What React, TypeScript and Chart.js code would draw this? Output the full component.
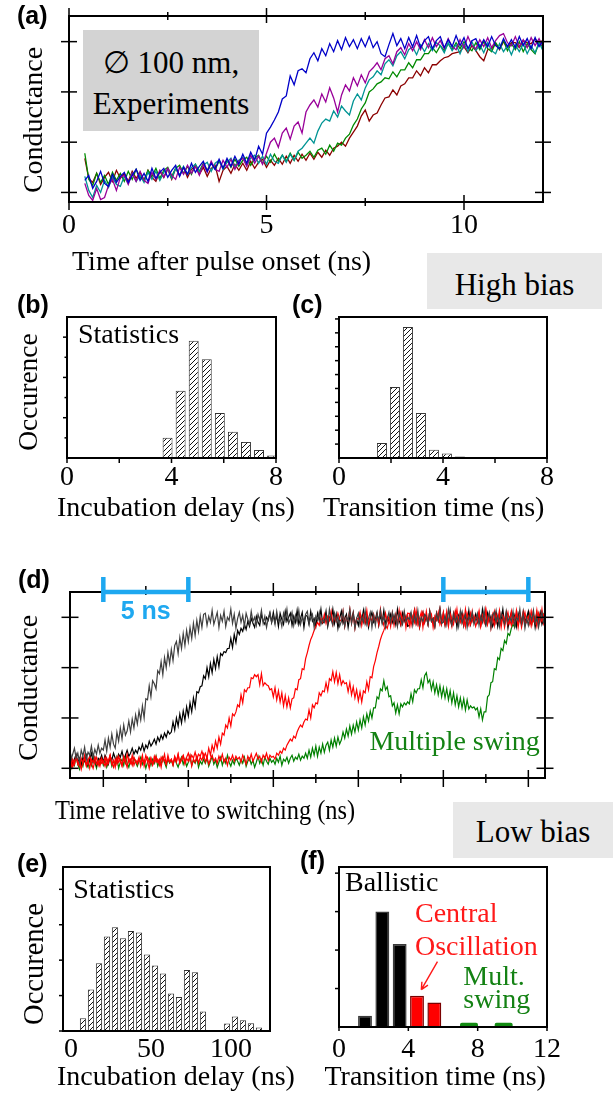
import React, { useEffect, useRef } from 'react';
import { Chart, registerables } from 'chart.js';

Chart.register(...registerables);

const SERIF = '"Liberation Serif", "Times New Roman", Times, serif';
const SANS = '"Liberation Sans", Arial, Helvetica, sans-serif';

/* ---------------- (a) high bias traces ---------------- */
const A_T_START = 0.4;
const A_T_STEP = 0.1;
const A_BLUE = [
  0.24,0.34,0.08,0.22,0.42,0.18,0.12,0.36,0.20,0.32,
  0.40,0.20,0.34,0.46,0.24,0.38,0.22,0.48,0.28,0.40,
  0.48,0.30,0.44,0.54,0.32,0.50,0.36,0.58,0.40,0.52,
  0.62,0.42,0.58,0.46,0.66,0.48,0.68,0.52,0.72,0.56,
  0.76,0.58,0.80,0.64,0.92,0.76,1.18,1.30,1.44,1.60,
  1.86,1.92,2.32,2.14,2.42,2.46,2.38,2.66,2.78,2.62,
  2.86,2.72,2.96,2.80,3.02,2.84,3.08,2.90,3.04,2.86,
  3.06,2.90,3.10,2.88,3.00,2.76,2.70,2.94,3.16,2.92,
  3.06,2.86,3.08,2.90,3.12,2.88,3.02,3.10,2.86,3.02,
  3.10,2.88,3.04,2.90,3.12,2.92,3.08,2.86,3.02,3.06,
  2.88,3.04,2.90,3.10,2.92,2.86,3.06,2.90,3.04,2.88,
  3.10,2.92,3.06,2.86,3.08,2.90,3.02,
];
const A_PURPLE = [
  0.18,-0.06,-0.16,0.08,-0.14,-0.10,0.14,0.26,0.04,0.30,
  0.34,0.16,0.38,0.22,0.42,0.24,0.18,0.40,0.26,0.44,
  0.30,0.48,0.34,0.26,0.50,0.36,0.54,0.38,0.52,0.34,
  0.56,0.40,0.62,0.46,0.42,0.64,0.50,0.66,0.46,0.62,
  0.68,0.52,0.74,0.58,0.72,0.56,0.78,1.00,1.08,0.90,
  1.18,1.28,1.06,1.32,1.40,1.18,1.60,1.74,1.84,1.70,
  1.96,1.80,2.08,1.88,1.60,1.94,2.14,2.02,2.28,2.12,
  2.34,2.18,2.40,2.48,2.58,2.44,2.66,2.72,2.56,2.80,
  2.88,2.74,2.96,2.82,3.00,2.84,3.04,2.88,3.08,2.90,
  3.02,2.86,3.06,2.90,2.84,3.04,2.88,3.10,2.92,2.86,
  3.04,2.90,3.08,2.88,3.02,3.12,3.16,2.98,2.92,3.10,
  2.90,3.04,2.88,3.08,2.92,3.06,2.90,
];
const A_TEAL = [
  0.32,0.04,-0.10,0.14,0.00,0.24,0.10,0.30,0.16,0.12,
  0.32,0.18,0.38,0.22,0.34,0.20,0.40,0.26,0.42,0.24,
  0.40,0.46,0.28,0.48,0.34,0.52,0.36,0.50,0.56,0.40,
  0.54,0.60,0.42,0.58,0.64,0.46,0.60,0.68,0.50,0.64,
  0.70,0.54,0.68,0.74,0.58,0.72,0.56,0.76,0.62,0.58,
  0.74,0.60,0.76,0.64,0.82,0.88,0.98,1.08,0.98,1.22,
  1.38,1.46,1.42,1.62,1.50,1.72,1.62,1.54,1.82,1.96,
  1.84,2.08,2.24,2.30,2.42,2.34,2.56,2.64,2.52,2.72,
  2.80,2.66,2.84,2.90,2.74,2.94,2.80,2.96,2.82,2.98,
  2.92,2.78,2.98,2.82,2.94,2.76,2.96,2.80,3.00,2.82,
  2.94,2.78,2.98,2.82,2.76,2.96,2.80,2.92,2.74,2.94,
  2.80,2.96,2.76,2.92,2.78,2.98,2.82,
];
const A_GREEN = [
  0.78,0.26,0.14,0.38,0.20,0.34,0.16,0.40,0.24,0.38,
  0.22,0.42,0.26,0.46,0.30,0.24,0.44,0.32,0.48,0.28,
  0.44,0.50,0.32,0.48,0.54,0.38,0.52,0.36,0.56,0.42,
  0.58,0.44,0.60,0.46,0.62,0.48,0.64,0.50,0.66,0.52,
  0.64,0.70,0.54,0.68,0.74,0.58,0.72,0.60,0.76,0.62,
  0.74,0.62,0.78,0.64,0.80,0.68,0.74,0.82,0.70,0.84,
  0.88,0.76,0.94,0.82,0.98,0.94,1.08,1.16,1.34,1.46,
  1.66,1.78,2.00,2.06,2.16,2.20,2.28,2.26,2.40,2.30,
  2.44,2.44,2.58,2.48,2.64,2.64,2.76,2.76,2.88,2.78,
  2.92,2.82,2.96,2.84,2.98,2.86,3.00,2.88,2.82,2.98,
  2.84,3.00,2.86,2.80,2.98,2.86,3.02,2.82,2.96,2.84,
  3.00,2.80,2.96,2.84,2.76,2.98,2.88,
];
const A_DARKRED = [
  0.68,0.28,0.20,0.38,0.16,0.30,0.40,0.22,0.44,0.28,
  0.38,0.22,0.42,0.28,0.40,0.24,0.44,0.30,0.22,0.42,
  0.30,0.46,0.26,0.48,0.34,0.50,0.30,0.46,0.52,0.36,
  0.50,0.32,0.48,0.54,0.22,0.44,0.52,0.38,0.56,0.44,
  0.58,0.44,0.62,0.48,0.60,0.66,0.50,0.64,0.54,0.68,
  0.56,0.72,0.58,0.74,0.62,0.76,0.64,0.78,0.66,0.80,
  0.70,0.84,0.74,0.88,0.92,1.00,0.92,1.08,1.20,1.32,
  1.52,1.64,1.42,1.54,1.58,1.74,1.88,1.90,2.04,1.94,
  2.12,2.16,2.28,2.28,2.42,2.32,2.48,2.38,2.54,2.54,
  2.62,2.68,2.70,2.76,2.78,2.80,2.90,2.78,2.92,2.82,
  2.70,2.62,2.84,2.86,2.96,2.84,3.00,2.88,2.98,2.98,
  2.88,3.02,2.98,2.96,3.06,2.94,3.04,
];
const A_X_LABELS = [0, 5, 10];
const A_X_MAJOR = [0, 5, 10];
const A_X_MINOR = [2.5, 7.5];
const A_Y_TICKS = [0, 1, 2, 3];

/* ---------------- (b) incubation delay, high bias ---------------- */
const B_BINS = [3.85, 4.35, 4.85, 5.35, 5.85, 6.35, 6.85, 7.35, 7.85];
const B_COUNTS = [0.50, 1.67, 2.91, 2.45, 1.12, 0.65, 0.40, 0.20, 0.06];
const B_X_LABELS = [0, 4, 8];
const B_X_TICKS = [0, 2, 4, 6, 8];
const B_Y_MAJOR = [1, 2, 3];
const B_Y_MINOR = [0.5, 1.5, 2.5];

/* ---------------- (c) transition time, high bias ---------------- */
const C_BINS = [1.65, 2.15, 2.65, 3.15, 3.65, 4.15, 4.65];
const C_COUNTS = [0.54, 2.55, 4.71, 1.62, 0.30, 0.16, 0.05];
const C_X_LABELS = [0, 4, 8];
const C_X_TICKS = [0, 2, 4, 6, 8];
const C_Y_TICKS = [0.5, 1, 1.5, 2, 2.5, 3, 3.5, 4, 4.5, 5];

/* ---------------- (d) low bias traces (0.1 ns samples) ---------------- */
const D_T_START = -2;
const D_T_STEP = 0.1;
// switched-state (plateau) segments, 10 samples each
const D_P1 = [3.08,2.84,3.02,2.90,3.14,2.86,2.98,3.10,2.80,3.04];
const D_P2 = [2.92,3.12,2.82,3.00,2.94,3.16,2.88,3.06,2.78,2.98];
const D_P3 = [3.10,2.90,3.04,2.82,3.08,2.96,2.86,3.12,2.92,3.00];
const D_P4 = [2.84,3.06,2.94,3.14,2.88,3.02,2.80,2.98,3.10,2.90];
const D_P5 = [3.02,2.86,3.12,2.92,2.98,2.82,3.08,2.94,3.16,2.88];
const D_P6 = [2.96,3.10,2.84,3.04,2.90,3.14,2.86,3.00,2.92,3.06];
const D_P7 = [3.12,2.88,2.98,3.06,2.80,3.02,2.94,3.10,2.86,2.96];
const D_P8 = [2.90,3.04,2.86,3.16,2.94,2.84,3.08,2.92,3.02,2.82];

const D_GRAY = [
  0.34,0.16,0.28,0.40,0.20,0.30,0.12,0.36,0.24,0.42,0.18,0.32,0.26,0.44,0.22,0.38,0.28,0.46,0.30,0.40,
  0.36,0.56,0.34,0.60,0.42,0.68,0.48,0.40,0.72,0.54,0.80,0.58,0.86,0.66,0.74,0.94,0.72,0.98,0.80,1.06,
  0.88,1.14,0.96,1.24,1.00,1.38,1.36,1.64,1.42,1.74,1.68,1.58,1.94,1.88,2.12,1.86,2.20,2.00,2.30,2.08,
  2.36,2.14,2.44,2.52,2.28,2.60,2.38,2.68,2.44,2.74,2.52,2.80,2.58,2.88,2.64,2.94,2.72,3.02,2.80,3.06,
  ...D_P1, ...D_P2, ...D_P3, ...D_P4, ...D_P5, ...D_P6, ...D_P7, ...D_P8, ...D_P2, ...D_P1,
  ...D_P4, ...D_P3, ...D_P6, ...D_P5, ...D_P8, ...D_P7, ...D_P1, ...D_P3, ...D_P2, ...D_P4,
  2.96,
];
const D_BLACK = [
  0.10,0.24,0.06,0.18,0.28,0.12,0.20,0.04,0.22,0.14,0.26,0.08,0.18,0.30,0.12,0.22,0.06,0.20,0.16,0.26,
  0.12,0.26,0.18,0.08,0.24,0.16,0.30,0.20,0.12,0.28,0.22,0.34,0.18,0.26,0.36,0.24,0.30,0.40,0.28,0.36,
  0.30,0.42,0.36,0.48,0.34,0.46,0.40,0.54,0.44,0.50,0.58,0.48,0.62,0.54,0.66,0.58,0.70,0.62,0.74,0.68,
  0.72,0.92,0.76,1.00,0.84,1.08,0.90,1.14,0.96,1.22,1.04,1.30,1.12,1.40,1.22,1.52,1.50,1.62,1.64,1.84,
  1.78,2.00,1.82,2.08,1.90,2.16,1.98,2.22,2.02,2.28,2.24,2.32,2.30,2.38,2.38,2.58,2.40,2.66,2.50,2.74,
  2.66,2.78,2.72,2.86,2.76,2.92,2.82,2.98,2.88,2.80,3.02,2.90,2.84,3.06,2.92,2.86,3.00,2.94,3.08,2.90,
  ...D_P3, ...D_P1, ...D_P5, ...D_P2, ...D_P7, ...D_P4, ...D_P6, ...D_P8,
  ...D_P4, ...D_P5, ...D_P1, ...D_P6, ...D_P8, ...D_P2, ...D_P3, ...D_P7,
  2.94,
];
const D_RED_1 = [
  0.06,0.18,0.02,0.14,0.22,0.08,0.16,-0.02,0.12,0.20,0.04,0.16,0.24,0.10,0.00,0.14,0.22,0.06,0.18,0.10,
  0.14,0.04,0.20,0.10,0.26,0.08,0.16,0.02,0.22,0.12,0.18,0.06,0.24,0.14,0.02,0.20,0.10,0.26,0.06,0.16,
  0.12,0.22,0.04,0.18,0.10,0.26,0.14,0.00,0.20,0.08,0.24,0.12,0.18,0.06,0.22,0.14,0.28,0.08,0.20,0.12,
  0.18,0.08,0.24,0.14,0.28,0.10,0.20,0.26,0.12,0.22,0.30,0.16,0.26,0.20,0.32,0.18,0.28,0.24,0.34,0.22,
  0.30,0.20,0.40,0.26,0.46,0.34,0.54,0.40,0.62,0.48,0.70,0.66,0.86,0.80,1.00,0.84,1.08,1.04,1.12,1.26,
  1.22,1.46,1.30,1.56,1.52,1.60,1.60,1.80,1.78,1.86,1.82,1.86,1.66,1.88,1.64,1.70,1.66,1.64,1.56,1.58,
  1.42,1.60,1.36,1.54,1.32,1.50,1.24,1.44,1.22,1.40,1.20,1.38,1.40,1.58,1.56,1.76,1.78,1.98,1.96,2.18,
  2.30,2.44,2.56,2.64,2.74,2.82,2.90,2.84,2.98,2.90,3.06,2.88,3.02,2.94,3.12,2.86,3.00,2.92,3.08,2.96,
  ...D_P2, ...D_P6, ...D_P8, ...D_P1, ...D_P4, ...D_P7, ...D_P5, ...D_P3, ...D_P6, ...D_P4, ...D_P7, ...D_P5,
  3.00,
];
const D_RED_2 = [
  0.14,0.02,0.18,0.08,0.24,0.12,0.04,0.20,0.10,0.26,0.06,0.16,0.00,0.18,0.12,0.22,0.08,0.14,0.04,0.20,
  0.10,0.22,0.06,0.16,0.26,0.12,0.02,0.18,0.08,0.24,0.14,0.04,0.20,0.10,0.28,0.12,0.18,0.06,0.22,0.14,
  0.08,0.18,0.12,0.26,0.04,0.16,0.22,0.10,0.20,0.06,0.14,0.24,0.12,0.18,0.02,0.22,0.16,0.08,0.26,0.12,
  0.18,0.06,0.22,0.12,0.28,0.10,0.16,0.24,0.08,0.20,0.14,0.26,0.04,0.18,0.12,0.24,0.10,0.22,0.16,0.28,
  0.12,0.22,0.08,0.18,0.26,0.14,0.20,0.10,0.24,0.16,0.28,0.12,0.20,0.06,0.22,0.16,0.26,0.14,0.24,0.18,
  0.22,0.12,0.26,0.18,0.08,0.24,0.16,0.28,0.14,0.22,0.30,0.18,0.24,0.12,0.26,0.20,0.30,0.16,0.26,0.22,
  0.24,0.18,0.30,0.26,0.34,0.30,0.40,0.36,0.46,0.52,0.58,0.54,0.64,0.60,0.72,0.80,0.86,0.82,0.92,0.98,
  0.96,1.16,1.00,1.26,1.20,1.30,1.28,1.50,1.44,1.54,1.52,1.70,1.54,1.78,1.74,1.92,1.72,1.90,1.68,1.86,
  1.66,1.74,1.68,1.70,1.52,1.70,1.46,1.62,1.40,1.56,1.34,1.52,1.32,1.54,1.50,1.72,1.56,1.82,1.80,2.02,
  2.14,2.30,2.42,2.56,2.66,2.74,2.84,2.78,2.92,2.86,3.00,2.90,3.06,2.84,2.98,3.10,2.88,3.02,2.94,3.08,
  ...D_P1, ...D_P5, ...D_P3, ...D_P8, ...D_P2, ...D_P7, ...D_P4, ...D_P6,
  3.02,
];
const D_GREEN = [
  0.10,0.00,0.16,0.06,0.22,0.08,-0.02,0.14,0.04,0.20,0.10,0.02,0.18,0.06,0.24,0.12,0.00,0.16,0.08,0.20,
  0.06,0.16,0.02,0.12,0.20,0.04,0.14,0.08,0.22,0.00,0.12,0.18,0.06,0.24,0.10,0.02,0.16,0.08,0.20,0.12,
  0.04,0.14,0.22,0.08,0.16,0.00,0.12,0.20,0.06,0.18,0.10,0.24,0.04,0.14,0.08,0.22,0.12,0.02,0.18,0.10,
  0.16,0.06,0.20,0.10,0.02,0.14,0.22,0.08,0.18,0.04,0.12,0.24,0.06,0.16,0.10,0.20,0.02,0.14,0.08,0.18,
  0.10,0.20,0.04,0.14,0.24,0.08,0.16,0.02,0.12,0.22,0.06,0.18,0.10,0.26,0.12,0.04,0.16,0.08,0.20,0.14,
  0.06,0.18,0.10,0.22,0.04,0.14,0.20,0.08,0.16,0.02,0.12,0.24,0.10,0.18,0.06,0.22,0.14,0.08,0.20,0.12,
  0.16,0.08,0.20,0.12,0.24,0.06,0.18,0.14,0.22,0.10,0.20,0.26,0.14,0.22,0.18,0.28,0.16,0.24,0.20,0.30,
  0.20,0.36,0.22,0.40,0.26,0.44,0.24,0.42,0.30,0.48,0.32,0.46,0.52,0.36,0.56,0.42,0.60,0.44,0.62,0.48,
  0.56,0.72,0.60,0.78,0.64,0.84,0.68,0.86,0.72,0.92,0.76,0.96,0.80,1.02,0.86,1.08,0.94,1.14,1.00,1.20,
  1.20,1.42,1.38,1.58,1.54,1.74,1.56,1.62,1.42,1.44,1.24,1.30,1.10,1.26,1.08,1.28,1.22,1.30,1.26,1.32,
  1.28,1.48,1.32,1.56,1.50,1.58,1.58,1.76,1.60,1.84,1.90,1.70,1.76,1.56,1.72,1.50,1.66,1.46,1.64,1.42,
  1.60,1.40,1.58,1.36,1.54,1.30,1.50,1.26,1.44,1.22,1.40,1.20,1.38,1.16,1.36,1.18,1.24,1.20,1.22,1.16,
  1.20,1.02,1.18,0.96,1.12,1.12,1.42,1.46,1.70,1.72,1.98,1.96,2.20,2.16,2.38,2.34,2.54,2.48,2.68,2.64,
  2.78,2.86,2.80,2.92,2.86,2.98,2.90,3.04,2.88,2.96,3.08,2.92,2.86,3.02,2.94,3.10,2.88,3.00,2.92,3.06,
  2.96,
];
const D_X_MAJOR = [0, 5, 10, 15, 20, 25];
const D_X_MINOR = [2.5, 7.5, 12.5, 17.5, 22.5];
const D_Y_TICKS = [0, 1, 2, 3];
const D_SCALE_BARS = [[0, 5], [20, 25]];

/* ---------------- (e) incubation delay, low bias ---------------- */
const E_BINS = [7.5, 12.5, 17.5, 22.5, 27.5, 32.5, 37.5, 42.5, 47.5, 52.5, 57.5, 62.5,
  67.5, 72.5, 77.5, 82.5, 87.5, 92.5, 97.5, 102.5, 107.5, 112.5, 117.5];
const E_COUNTS = [0.36, 1.17, 1.91, 2.67, 2.93, 2.62, 2.82, 2.78, 2.16, 1.85, 1.62, 1.06,
  0.96, 1.72, 1.66, 0.55, 0, 0, 0.21, 0.41, 0.30, 0.22, 0.10];
const E_X_LABELS = [0, 50, 100];
const E_Y_TICKS = [0, 1, 2, 3, 4];

/* ---------------- (f) transition time, low bias ---------------- */
const F_BALLISTIC_X = [1.5, 2.5, 3.5];
const F_BALLISTIC_Y = [0.29, 3.0, 2.16];
const F_CENTRAL_X = [4.5, 5.5];
const F_CENTRAL_Y = [0.81, 0.64];
const F_MULT_X = [7.5, 9.5];
const F_MULT_Y = [0.1, 0.1];
const F_X_LABELS = [0, 4, 8, 12];
const F_Y_TICKS = [1, 2, 3, 4];
const F_ARROW_FROM = [5.68, 1.70];
const F_ARROW_TO = [4.75, 0.97];

/* ---------------- helpers ---------------- */
const pts = (start: number, step: number, ys: number[]) =>
  ys.map((y, i) => ({ x: Math.round((start + i * step) * 1000) / 1000, y }));
const bars = (xs: number[], ys: number[]) =>
  xs.map((x, i) => ({ x, y: ys[i] })).filter((p) => p.y > 0);

type TickSpec = { axis: 'x' | 'y'; side: 'top' | 'bottom' | 'left' | 'right'; values: number[]; inLen: number; outLen: number };

function framePlugin(ticks: TickSpec[], extra?: (chart: any) => void) {
  return {
    id: 'frame',
    afterDatasetsDraw(chart: any) {
      const { ctx, chartArea: a, scales } = chart;
      ctx.save();
      ctx.strokeStyle = '#000';
      ctx.lineWidth = 2;
      ctx.strokeRect(a.left, a.top, a.right - a.left, a.bottom - a.top);
      ctx.lineWidth = 1.5;
      for (const t of ticks) {
        const sc = scales[t.axis];
        for (const v of t.values) {
          const p = sc.getPixelForValue(v);
          ctx.beginPath();
          if (t.axis === 'x') {
            const y0 = t.side === 'top' ? a.top : a.bottom;
            const dir = t.side === 'top' ? -1 : 1;
            ctx.moveTo(p, y0 - dir * t.inLen);
            ctx.lineTo(p, y0 + dir * t.outLen);
          } else {
            const x0 = t.side === 'left' ? a.left : a.right;
            const dir = t.side === 'left' ? -1 : 1;
            ctx.moveTo(x0 - dir * t.inLen, p);
            ctx.lineTo(x0 + dir * t.outLen, p);
          }
          ctx.stroke();
        }
      }
      ctx.restore();
      if (extra) extra(chart);
    },
  };
}

function xAxis(min: number, max: number, labels: number[], fitHeight: number, pad: number) {
  return {
    type: 'linear', min, max, offset: false,
    grid: { display: false, drawTicks: false },
    border: { display: false },
    ticks: { font: { family: SERIF, size: 28 }, color: '#000', padding: pad, maxRotation: 0, minRotation: 0, autoSkip: false },
    afterBuildTicks: (s: any) => { s.ticks = labels.map((v) => ({ value: v })); },
    afterFit: (s: any) => { s.height = fitHeight; },
  };
}
const hidden = (min: number, max: number) => ({ type: 'linear', display: false, min, max, offset: false });

function baseOptions(padding: any, x: any, y: any) {
  return {
    animation: false,
    responsive: false,
    devicePixelRatio: 1,
    events: [],
    layout: { padding },
    plugins: { legend: { display: false }, tooltip: { enabled: false } },
    scales: { x, y },
  };
}

function makeHatch(ctx: CanvasRenderingContext2D) {
  const n = 5;
  const c = document.createElement('canvas');
  c.width = n; c.height = n;
  const g = c.getContext('2d')!;
  g.fillStyle = '#fff';
  g.fillRect(0, 0, n, n);
  g.strokeStyle = '#111';
  g.lineWidth = 1;
  g.beginPath();
  g.moveTo(0, n); g.lineTo(n, 0);
  g.moveTo(-1, 1); g.lineTo(1, -1);
  g.moveTo(n - 1, n + 1); g.lineTo(n + 1, n - 1);
  g.stroke();
  return ctx.createPattern(c, 'repeat');
}

const line = (data: any[], color: string, width: number) => ({
  data, borderColor: color, borderWidth: width, pointRadius: 0, fill: false, tension: 0,
});

function ChartBox({ left, top, width, height, make }: { left: number; top: number; width: number; height: number; make: (c: HTMLCanvasElement) => any }) {
  const ref = useRef<HTMLCanvasElement>(null);
  useEffect(() => {
    const canvas = ref.current!;
    const chart = new Chart(canvas, make(canvas));
    return () => chart.destroy();
  }, []);
  return (
    <canvas ref={ref} width={width} height={height}
      style={{ position: 'absolute', left, top, width, height }} />
  );
}

function T({ x, y, size, children, font = SERIF, color = '#000', bold = false, center = false, sx = 1 }: any) {
  const k = font === SANS ? 0.8465 : 0.8375;
  let transform: string | undefined;
  if (center) transform = 'translateX(-50%)';
  else if (sx !== 1) transform = `scaleX(${sx})`;
  return (
    <div style={{
      position: 'absolute', left: x, top: y - k * size, fontFamily: font, fontSize: size,
      lineHeight: `${size}px`, whiteSpace: 'nowrap', color, fontWeight: bold ? 'bold' : 'normal',
      transform, transformOrigin: 'left center',
    }}>{children}</div>
  );
}

function VT({ cx, cy, size, children }: any) {
  return (
    <div style={{
      position: 'absolute', left: cx, top: cy, fontFamily: SERIF, fontSize: size,
      lineHeight: `${size}px`, whiteSpace: 'nowrap', color: '#000',
      transform: 'translate(-50%, -50%) rotate(-90deg)',
    }}>{children}</div>
  );
}

/* ---------------- chart configs ---------------- */
const makeA = () => ({
  type: 'line',
  data: {
    datasets: [
      line(pts(A_T_START, A_T_STEP, A_BLUE), '#0000c8', 1.3),
      line(pts(A_T_START, A_T_STEP, A_PURPLE), '#990099', 1.3),
      line(pts(A_T_START, A_T_STEP, A_TEAL), '#009494', 1.3),
      line(pts(A_T_START, A_T_STEP, A_GREEN), '#008a00', 1.3),
      line(pts(A_T_START, A_T_STEP, A_DARKRED), '#8b0000', 1.3),
    ],
  },
  options: baseOptions({ left: 69, top: 16, right: 70, bottom: 0 },
    xAxis(0, 12, A_X_LABELS, 48, 7), hidden(-0.19, 3.51)),
  plugins: [framePlugin([
    { axis: 'x', side: 'bottom', values: A_X_MAJOR, inLen: 7, outLen: 8 },
    { axis: 'x', side: 'bottom', values: A_X_MINOR, inLen: 4, outLen: 4 },
    { axis: 'x', side: 'top', values: A_X_MAJOR, inLen: 7, outLen: 8 },
    { axis: 'x', side: 'top', values: A_X_MINOR, inLen: 4, outLen: 4 },
    { axis: 'y', side: 'left', values: A_Y_TICKS, inLen: 8, outLen: 8 },
    { axis: 'y', side: 'right', values: A_Y_TICKS, inLen: 8, outLen: 8 },
  ])],
});

const hatchBar = (data: any[], pattern: any, pct: number) => ({
  data, backgroundColor: pattern, borderColor: '#333', borderWidth: 1,
  barPercentage: pct, categoryPercentage: 1, grouped: false, borderSkipped: 'start',
});

const makeB = (canvas: HTMLCanvasElement) => ({
  type: 'bar',
  data: { datasets: [hatchBar(bars(B_BINS, B_COUNTS), makeHatch(canvas.getContext('2d')!), 0.76)] },
  options: baseOptions({ left: 67, top: 17, right: 24, bottom: 0 },
    xAxis(0, 8, B_X_LABELS, 72, 3), hidden(0, 3.5)),
  plugins: [framePlugin([
    { axis: 'x', side: 'bottom', values: B_X_TICKS, inLen: 0, outLen: 5 },
    { axis: 'y', side: 'left', values: B_Y_MAJOR, inLen: 0, outLen: 4 },
    { axis: 'y', side: 'left', values: B_Y_MINOR, inLen: 0, outLen: 2.5 },
  ])],
});

const makeC = (canvas: HTMLCanvasElement) => ({
  type: 'bar',
  data: { datasets: [hatchBar(bars(C_BINS, C_COUNTS), makeHatch(canvas.getContext('2d')!), 0.77)] },
  options: baseOptions({ left: 39, top: 17, right: 66, bottom: 0 },
    xAxis(0, 8, C_X_LABELS, 72, 3), hidden(0, 5.07)),
  plugins: [framePlugin([
    { axis: 'x', side: 'bottom', values: C_X_TICKS, inLen: 0, outLen: 5 },
    { axis: 'y', side: 'left', values: C_Y_TICKS, inLen: 0, outLen: 4 },
  ])],
});

const makeD = () => ({
  type: 'line',
  data: {
    datasets: [
      line(pts(D_T_START, D_T_STEP, D_GRAY), '#404040', 1.2),
      line(pts(D_T_START, D_T_STEP, D_RED_1), '#ff0000', 1.2),
      line(pts(D_T_START, D_T_STEP, D_RED_2), '#ff0000', 1.2),
      line(pts(D_T_START, D_T_STEP, D_BLACK), '#000000', 1.2),
      line(pts(D_T_START, D_T_STEP, D_GREEN), '#008000', 1.2),
    ],
  },
  options: baseOptions({ left: 70, top: 32, right: 68, bottom: 22 },
    hidden(-1.96, 25.98), hidden(-0.193, 3.503)),
  plugins: [framePlugin([
    { axis: 'x', side: 'bottom', values: D_X_MAJOR, inLen: 8, outLen: 9 },
    { axis: 'x', side: 'bottom', values: D_X_MINOR, inLen: 4, outLen: 5 },
    { axis: 'x', side: 'top', values: D_X_MAJOR, inLen: 4, outLen: 9 },
    { axis: 'x', side: 'top', values: D_X_MINOR, inLen: 3, outLen: 6 },
    { axis: 'y', side: 'left', values: D_Y_TICKS, inLen: 8.5, outLen: 8.5 },
    { axis: 'y', side: 'right', values: D_Y_TICKS, inLen: 8.5, outLen: 8.5 },
  ], (chart) => {
    const { ctx, chartArea: a, scales } = chart;
    ctx.save();
    ctx.strokeStyle = '#1ea8f0';
    ctx.lineWidth = 4.5;
    for (const [s, e] of D_SCALE_BARS) {
      const x1 = scales.x.getPixelForValue(s);
      const x2 = scales.x.getPixelForValue(e);
      ctx.beginPath();
      ctx.moveTo(x1, a.top); ctx.lineTo(x2, a.top);
      ctx.moveTo(x1, a.top - 15); ctx.lineTo(x1, a.top + 10);
      ctx.moveTo(x2, a.top - 15); ctx.lineTo(x2, a.top + 10);
      ctx.stroke();
    }
    ctx.restore();
  })],
});

const makeE = (canvas: HTMLCanvasElement) => ({
  type: 'bar',
  data: { datasets: [hatchBar(bars(E_BINS, E_COUNTS), makeHatch(canvas.getContext('2d')!), 0.78)] },
  options: baseOptions({ left: 63, top: 17, right: 30, bottom: 0 },
    xAxis(-5, 124.4, E_X_LABELS, 65, 1.5), hidden(0, 4.63)),
  plugins: [framePlugin([
    { axis: 'y', side: 'left', values: E_Y_TICKS, inLen: 0, outLen: 4 },
  ])],
});

const makeF = () => ({
  type: 'bar',
  data: {
    datasets: [
      { data: bars(F_BALLISTIC_X, F_BALLISTIC_Y), backgroundColor: '#000', borderColor: '#3a3a3a', borderWidth: 1.5,
        barPercentage: 0.8, categoryPercentage: 1, grouped: false },
      { data: bars(F_CENTRAL_X, F_CENTRAL_Y), backgroundColor: '#ff0000', borderColor: '#7a0000', borderWidth: 1.5,
        barPercentage: 0.8, categoryPercentage: 1, grouped: false },
      { data: bars(F_MULT_X, F_MULT_Y), backgroundColor: '#128a12', borderWidth: 0, borderRadius: 2, borderSkipped: false,
        barPercentage: 1.0, categoryPercentage: 1, grouped: false },
    ],
  },
  options: baseOptions({ left: 39, top: 17, right: 66, bottom: 0 },
    xAxis(0, 12, F_X_LABELS, 69, 5.5), hidden(0, 4.16)),
  plugins: [framePlugin([
    { axis: 'x', side: 'bottom', values: F_X_LABELS, inLen: 0, outLen: 4 },
    { axis: 'y', side: 'left', values: F_Y_TICKS, inLen: 0, outLen: 4 },
  ], (chart) => {
    const { ctx, scales } = chart;
    const x1 = scales.x.getPixelForValue(F_ARROW_FROM[0]);
    const y1 = scales.y.getPixelForValue(F_ARROW_FROM[1]);
    const x2 = scales.x.getPixelForValue(F_ARROW_TO[0]);
    const y2 = scales.y.getPixelForValue(F_ARROW_TO[1]);
    const ang = Math.atan2(y2 - y1, x2 - x1);
    ctx.save();
    ctx.strokeStyle = '#ff1a1a';
    ctx.lineWidth = 1.4;
    ctx.beginPath();
    ctx.moveTo(x1, y1); ctx.lineTo(x2, y2);
    ctx.moveTo(x2, y2); ctx.lineTo(x2 - 8 * Math.cos(ang - 0.45), y2 - 8 * Math.sin(ang - 0.45));
    ctx.moveTo(x2, y2); ctx.lineTo(x2 - 8 * Math.cos(ang + 0.45), y2 - 8 * Math.sin(ang + 0.45));
    ctx.stroke();
    ctx.restore();
  })],
});

const RED_TXT = '#ff1a1a';
const GREEN_TXT = '#148214';
const BLUE_TXT = '#1ea8f0';

export default function App() {
  return (
    <div style={{ position: 'absolute', left: 0, top: 0, width: 613, height: 1096, background: '#fff', overflow: 'hidden' }}>
      <ChartBox left={0} top={0} width={613} height={250} make={makeA} />
      <ChartBox left={0} top={300} width={300} height={230} make={makeB} />
      <ChartBox left={300} top={300} width={313} height={230} make={makeC} />
      <ChartBox left={0} top={560} width={613} height={240} make={makeD} />
      <ChartBox left={0} top={850} width={300} height={246} make={makeE} />
      <ChartBox left={300} top={850} width={313} height={246} make={makeF} />

      {/* boxes */}
      <div style={{ position: 'absolute', left: 83, top: 30, width: 176, height: 101, background: '#d3d3d3' }} />
      <div style={{ position: 'absolute', left: 427, top: 253, width: 175, height: 56, background: '#e8e8e8' }} />
      <div style={{ position: 'absolute', left: 453, top: 802, width: 160, height: 56, background: '#e8e8e8' }} />

      {/* (a) */}
      <T x={17} y={24} size={25} font={SANS} bold>(a)</T>
      <VT cx={33} cy={120} size={28}>Conductance</VT>
      <T x={171} y={73} size={31} center>∅ 100 nm,</T>
      <T x={171} y={114} size={31} center>Experiments</T>
      <T x={72} y={270} size={28}>Time after pulse onset (ns)</T>
      <T x={514.5} y={295} size={31} center>High bias</T>

      {/* (b) (c) */}
      <T x={17} y={313} size={25} font={SANS} bold>(b)</T>
      <VT cx={28} cy={392} size={27.5}>Occurence</VT>
      <T x={78} y={343.5} size={28}>Statistics</T>
      <T x={57} y={516} size={28}>Incubation delay (ns)</T>
      <T x={292} y={313} size={25} font={SANS} bold>(c)</T>
      <T x={323} y={516} size={28}>Transition time (ns)</T>

      {/* (d) */}
      <T x={18} y={588} size={25} font={SANS} bold>(d)</T>
      <VT cx={28} cy={688} size={28}>Conductance</VT>
      <T x={120.7} y={619.3} size={25} font={SANS} bold color={BLUE_TXT}>5 ns</T>
      <T x={369.4} y={750} size={28} color={GREEN_TXT}>Multiple swing</T>
      <T x={55} y={819} size={28} sx={0.872}>Time relative to switching (ns)</T>
      <T x={533} y={841.7} size={31} center>Low bias</T>

      {/* (e) (f) */}
      <T x={17} y={872} size={25} font={SANS} bold>(e)</T>
      <VT cx={33.5} cy={964} size={28.5}>Occurence</VT>
      <T x={73.3} y={898.3} size={28}>Statistics</T>
      <T x={57} y={1085} size={28}>Incubation delay (ns)</T>
      <T x={300} y={869} size={25} font={SANS} bold>(f)</T>
      <T x={345} y={891.7} size={28}>Ballistic</T>
      <T x={415} y={922.7} size={28} color={RED_TXT}>Central</T>
      <T x={415} y={955} size={28} color={RED_TXT}>Oscillation</T>
      <T x={463.3} y={985} size={28} color={GREEN_TXT}>Mult.</T>
      <T x={463.3} y={1008.3} size={28} color={GREEN_TXT}>swing</T>
      <T x={324.5} y={1085} size={28}>Transition time (ns)</T>
    </div>
  );
}
